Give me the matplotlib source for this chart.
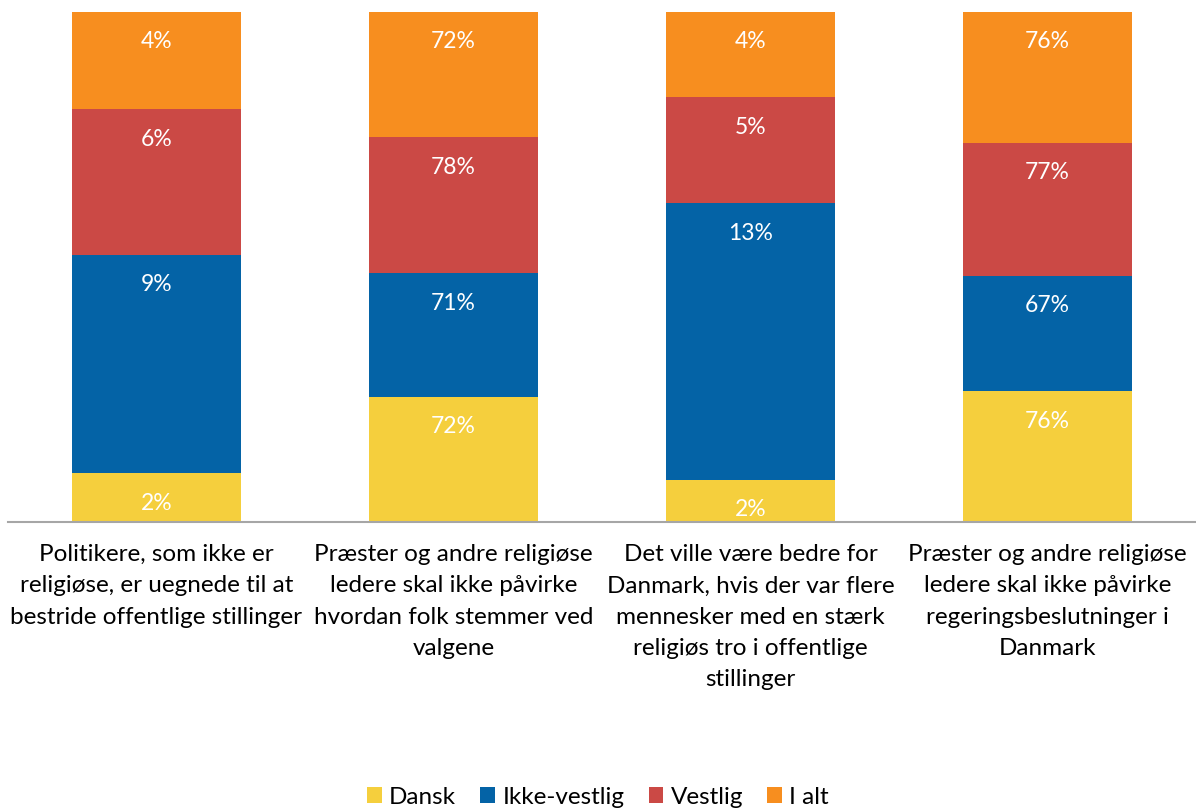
import numpy as np
import matplotlib
matplotlib.use('Agg')
import matplotlib.pyplot as plt
from matplotlib.patches import Patch

plt.rcParams['font.family'] = ['Lato', 'DejaVu Sans']

# Categories (x-axis labels)
categories = [
    'Politikere, som ikke er\nreligiøse, er uegnede til at\nbestride offentlige stillinger',
    'Præster og andre religiøse\nledere skal ikke påvirke\nhvordan folk stemmer ved\nvalgene',
    'Det ville være bedre for\nDanmark, hvis der var flere\nmennesker med en stærk\nreligiøs tro i offentlige\nstillinger',
    'Præster og andre religiøse\nledere skal ikke påvirke\nregeringsbeslutninger i\nDanmark',
]

# Series values (percent)
series_names = ['Dansk', 'Ikke-vestlig', 'Vestlig', 'I alt']
dansk = [2, 72, 2, 76]
ikke_vestlig = [9, 71, 13, 67]
vestlig = [6, 78, 5, 77]
i_alt = [4, 72, 4, 76]
colors = ['#F5CF3D', '#0463A6', '#CB4945', '#F78E1F']

values = np.array([dansk, ikke_vestlig, vestlig, i_alt], dtype=float)
# 100% stacked: each bar normalised to its total
shares = values / values.sum(axis=0)

fig = plt.figure(figsize=(11.96, 8.10), dpi=100)
ax = fig.add_axes([8 / 1196, 1 - 522 / 810, 1 - 8 / 1196, (522 - 12) / 810])

x = np.arange(len(categories))
bottom = np.zeros(len(categories))
for vals, shr, col in zip(values, shares, colors):
    ax.bar(x, shr, width=0.57, bottom=bottom, color=col, edgecolor='none')
    for xi, v, top in zip(x, vals, bottom + shr):
        ax.annotate(f'{int(v)}%', (xi, top), xytext=(0, -30), textcoords='offset pixels',
                    ha='center', va='center', color='white', fontsize=16.5)
    bottom += shr

ax.set_xlim(-0.5, 3.5)
ax.set_ylim(0, 1)
for s in ['top', 'right', 'left']:
    ax.spines[s].set_visible(False)
ax.spines['bottom'].set_color('#A6A6A6')
ax.spines['bottom'].set_linewidth(1.5)
ax.set_yticks([])
ax.set_xticks(x)
ax.set_xticklabels(categories, fontsize=17.5, linespacing=1.6, va='top')
ax.tick_params(axis='x', length=0, pad=16)

handles = [Patch(facecolor=c, edgecolor='none') for c in colors]
fig.legend(handles, series_names, loc='center', bbox_to_anchor=(0.5, 1 - 797 / 810),
           ncol=4, frameon=False, fontsize=17.5, handlelength=0.6, handleheight=0.6,
           handletextpad=0.3, columnspacing=1.0)

fig.savefig('out.png', dpi=100)
